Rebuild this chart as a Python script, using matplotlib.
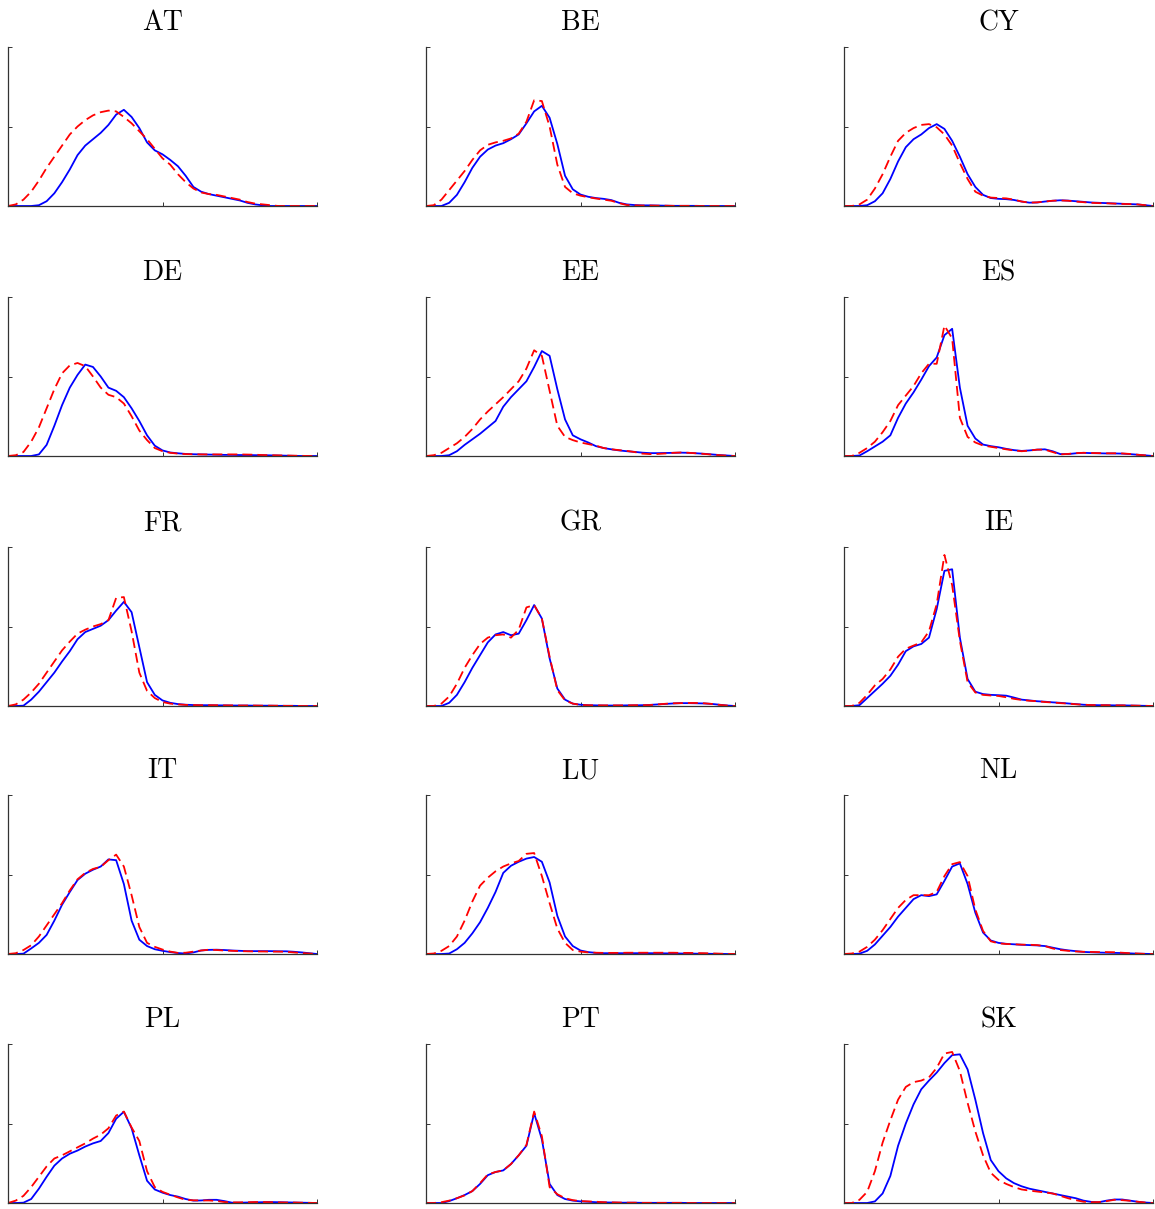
import matplotlib
matplotlib.use("Agg")
import matplotlib.pyplot as plt
import numpy as np

# common x grid (fraction of the plotted range)
X = np.linspace(0, 1, 41)

COUNTRIES = ["AT", "BE", "CY", "DE", "EE", "ES", "FR", "GR", "IE",
             "IT", "LU", "NL", "PL", "PT", "SK"]

# blue solid / red dashed densities (fraction of y range)
AT_SOLID = [0, 0, 0, 0, 0.005, 0.03, 0.08, 0.15, 0.23, 0.32, 0.38, 0.42, 0.46, 0.51, 0.575, 0.605, 0.56, 0.49, 0.40, 0.35, 0.325, 0.29, 0.25, 0.19, 0.12, 0.09, 0.075, 0.065, 0.055, 0.045, 0.035, 0.02, 0.01, 0.004, 0, 0, 0, 0, 0, 0, 0]
AT_DASHED = [0, 0.01, 0.04, 0.09, 0.16, 0.24, 0.31, 0.38, 0.45, 0.50, 0.54, 0.57, 0.59, 0.60, 0.595, 0.56, 0.52, 0.47, 0.42, 0.36, 0.30, 0.26, 0.20, 0.15, 0.11, 0.085, 0.075, 0.07, 0.06, 0.05, 0.04, 0.025, 0.015, 0.01, 0.005, 0, 0, 0, 0, 0, 0]

BE_SOLID = [0, 0, 0, 0.02, 0.07, 0.15, 0.24, 0.31, 0.355, 0.38, 0.395, 0.42, 0.45, 0.52, 0.595, 0.63, 0.555, 0.39, 0.19, 0.105, 0.072, 0.058, 0.05, 0.045, 0.037, 0.02, 0.01, 0.006, 0.004, 0.004, 0.003, 0.002, 0.001, 0.001, 0.001, 0.001, 0, 0, 0, 0, 0]
BE_DASHED = [0, 0.005, 0.04, 0.10, 0.16, 0.22, 0.29, 0.35, 0.385, 0.40, 0.41, 0.425, 0.455, 0.53, 0.665, 0.66, 0.50, 0.26, 0.12, 0.08, 0.065, 0.055, 0.047, 0.04, 0.033, 0.018, 0.006, 0.004, 0.003, 0.003, 0.002, 0.002, 0.001, 0.001, 0.001, 0, 0, 0, 0, 0, 0]

CY_SOLID = [0, 0, 0, 0.005, 0.03, 0.08, 0.17, 0.28, 0.37, 0.42, 0.45, 0.49, 0.515, 0.485, 0.41, 0.31, 0.20, 0.12, 0.07, 0.05, 0.045, 0.043, 0.038, 0.028, 0.021, 0.022, 0.028, 0.033, 0.036, 0.034, 0.03, 0.026, 0.022, 0.02, 0.018, 0.016, 0.014, 0.012, 0.01, 0.005, 0]
CY_DASHED = [0, 0, 0.01, 0.04, 0.11, 0.20, 0.31, 0.41, 0.46, 0.49, 0.51, 0.515, 0.495, 0.45, 0.38, 0.27, 0.17, 0.09, 0.065, 0.053, 0.05, 0.048, 0.04, 0.028, 0.021, 0.023, 0.028, 0.033, 0.035, 0.033, 0.028, 0.024, 0.02, 0.018, 0.017, 0.015, 0.013, 0.012, 0.01, 0.005, 0]

DE_SOLID = [0, 0, 0, 0, 0.01, 0.07, 0.19, 0.32, 0.43, 0.51, 0.575, 0.56, 0.50, 0.43, 0.41, 0.37, 0.30, 0.22, 0.13, 0.065, 0.035, 0.022, 0.017, 0.013, 0.011, 0.01, 0.009, 0.008, 0.007, 0.007, 0.006, 0.006, 0.005, 0.005, 0.004, 0.003, 0.002, 0.001, 0, 0, 0]
DE_DASHED = [0, 0.005, 0.025, 0.09, 0.18, 0.30, 0.42, 0.52, 0.57, 0.585, 0.565, 0.50, 0.43, 0.385, 0.37, 0.33, 0.25, 0.16, 0.10, 0.05, 0.03, 0.02, 0.015, 0.012, 0.011, 0.01, 0.01, 0.01, 0.01, 0.01, 0.01, 0.009, 0.008, 0.006, 0.005, 0.004, 0.003, 0.002, 0.001, 0, 0]

EE_SOLID = [0, 0, 0, 0.005, 0.03, 0.07, 0.105, 0.14, 0.18, 0.22, 0.31, 0.37, 0.42, 0.47, 0.56, 0.66, 0.63, 0.42, 0.23, 0.13, 0.105, 0.085, 0.062, 0.05, 0.042, 0.035, 0.03, 0.026, 0.021, 0.018, 0.018, 0.019, 0.02, 0.021, 0.02, 0.017, 0.014, 0.01, 0.006, 0.003, 0]
EE_DASHED = [0, 0.005, 0.02, 0.05, 0.08, 0.12, 0.17, 0.23, 0.28, 0.325, 0.37, 0.42, 0.47, 0.55, 0.665, 0.63, 0.41, 0.19, 0.12, 0.10, 0.085, 0.075, 0.065, 0.05, 0.042, 0.037, 0.032, 0.025, 0.015, 0.012, 0.013, 0.016, 0.02, 0.022, 0.02, 0.017, 0.013, 0.009, 0.005, 0.002, 0]

ES_SOLID = [0, 0, 0.003, 0.03, 0.06, 0.09, 0.13, 0.24, 0.33, 0.40, 0.48, 0.565, 0.62, 0.76, 0.80, 0.43, 0.19, 0.11, 0.072, 0.062, 0.055, 0.045, 0.037, 0.032, 0.035, 0.04, 0.042, 0.03, 0.012, 0.012, 0.017, 0.02, 0.018, 0.017, 0.016, 0.016, 0.015, 0.012, 0.008, 0.004, 0]
ES_DASHED = [0, 0, 0.02, 0.05, 0.09, 0.15, 0.22, 0.32, 0.38, 0.44, 0.52, 0.58, 0.58, 0.82, 0.74, 0.24, 0.12, 0.085, 0.066, 0.058, 0.05, 0.042, 0.035, 0.03, 0.034, 0.04, 0.04, 0.025, 0.01, 0.013, 0.018, 0.02, 0.019, 0.018, 0.017, 0.017, 0.016, 0.013, 0.008, 0.004, 0]

FR_SOLID = [0, 0, 0.002, 0.04, 0.09, 0.15, 0.21, 0.28, 0.345, 0.42, 0.465, 0.485, 0.505, 0.54, 0.60, 0.655, 0.59, 0.37, 0.15, 0.07, 0.035, 0.02, 0.012, 0.008, 0.006, 0.005, 0.005, 0.004, 0.004, 0.003, 0.003, 0.003, 0.002, 0.002, 0.002, 0.001, 0.001, 0.001, 0, 0, 0]
FR_DASHED = [0, 0.01, 0.04, 0.085, 0.14, 0.21, 0.28, 0.35, 0.405, 0.455, 0.48, 0.50, 0.515, 0.54, 0.68, 0.685, 0.47, 0.21, 0.095, 0.05, 0.025, 0.015, 0.01, 0.007, 0.006, 0.005, 0.005, 0.005, 0.004, 0.004, 0.003, 0.003, 0.003, 0.002, 0.002, 0.002, 0.001, 0.001, 0, 0, 0]

GR_SOLID = [0, 0, 0, 0.02, 0.07, 0.15, 0.24, 0.32, 0.40, 0.45, 0.465, 0.445, 0.455, 0.54, 0.635, 0.55, 0.30, 0.11, 0.04, 0.015, 0.008, 0.005, 0.004, 0.003, 0.003, 0.003, 0.004, 0.004, 0.005, 0.007, 0.01, 0.013, 0.016, 0.018, 0.018, 0.017, 0.016, 0.013, 0.008, 0.003, 0]
GR_DASHED = [0, 0, 0.015, 0.06, 0.14, 0.24, 0.32, 0.39, 0.43, 0.445, 0.45, 0.43, 0.48, 0.62, 0.635, 0.55, 0.31, 0.10, 0.035, 0.015, 0.007, 0.005, 0.004, 0.004, 0.004, 0.004, 0.004, 0.005, 0.005, 0.006, 0.01, 0.014, 0.017, 0.018, 0.019, 0.019, 0.017, 0.013, 0.007, 0.003, 0]

IE_SOLID = [0, 0, 0.005, 0.05, 0.095, 0.14, 0.19, 0.26, 0.345, 0.375, 0.39, 0.43, 0.61, 0.85, 0.86, 0.43, 0.17, 0.09, 0.075, 0.07, 0.068, 0.065, 0.053, 0.04, 0.035, 0.03, 0.027, 0.023, 0.02, 0.016, 0.012, 0.008, 0.006, 0.005, 0.005, 0.004, 0.004, 0.003, 0.002, 0.001, 0]
IE_DASHED = [0, 0, 0.02, 0.07, 0.13, 0.17, 0.23, 0.31, 0.36, 0.38, 0.40, 0.47, 0.64, 0.95, 0.76, 0.41, 0.15, 0.085, 0.07, 0.066, 0.063, 0.055, 0.045, 0.038, 0.033, 0.03, 0.025, 0.022, 0.018, 0.015, 0.011, 0.008, 0.006, 0.005, 0.005, 0.004, 0.004, 0.003, 0.002, 0.001, 0]

IT_SOLID = [0, 0, 0.002, 0.035, 0.07, 0.12, 0.21, 0.31, 0.39, 0.465, 0.505, 0.53, 0.55, 0.595, 0.59, 0.44, 0.21, 0.09, 0.05, 0.03, 0.02, 0.012, 0.006, 0.003, 0.01, 0.022, 0.026, 0.027, 0.025, 0.022, 0.02, 0.018, 0.018, 0.018, 0.018, 0.017, 0.017, 0.014, 0.01, 0.005, 0]
IT_DASHED = [0, 0.005, 0.025, 0.055, 0.11, 0.18, 0.25, 0.32, 0.40, 0.47, 0.51, 0.535, 0.548, 0.59, 0.625, 0.55, 0.37, 0.17, 0.07, 0.045, 0.028, 0.015, 0.007, 0.008, 0.015, 0.022, 0.027, 0.025, 0.022, 0.02, 0.018, 0.017, 0.016, 0.016, 0.015, 0.015, 0.014, 0.01, 0.006, 0.003, 0]

LU_SOLID = [0, 0, 0, 0.003, 0.03, 0.07, 0.13, 0.20, 0.29, 0.39, 0.51, 0.555, 0.58, 0.60, 0.61, 0.58, 0.45, 0.24, 0.11, 0.05, 0.022, 0.012, 0.007, 0.005, 0.005, 0.005, 0.005, 0.005, 0.005, 0.005, 0.005, 0.004, 0.004, 0.003, 0.003, 0.002, 0.002, 0.001, 0.001, 0, 0]
LU_DASHED = [0, 0.003, 0.02, 0.05, 0.11, 0.21, 0.33, 0.43, 0.48, 0.52, 0.55, 0.57, 0.585, 0.63, 0.635, 0.49, 0.32, 0.16, 0.07, 0.025, 0.015, 0.01, 0.008, 0.007, 0.007, 0.007, 0.008, 0.008, 0.008, 0.008, 0.008, 0.008, 0.008, 0.007, 0.007, 0.006, 0.005, 0.004, 0.002, 0.001, 0]

NL_SOLID = [0, 0, 0.002, 0.02, 0.06, 0.115, 0.17, 0.235, 0.29, 0.345, 0.37, 0.364, 0.375, 0.46, 0.55, 0.57, 0.44, 0.26, 0.135, 0.085, 0.07, 0.064, 0.061, 0.058, 0.056, 0.054, 0.05, 0.04, 0.03, 0.023, 0.018, 0.013, 0.011, 0.009, 0.008, 0.007, 0.006, 0.004, 0.002, 0.001, 0]
NL_DASHED = [0, 0.003, 0.015, 0.045, 0.09, 0.15, 0.22, 0.29, 0.34, 0.37, 0.37, 0.37, 0.39, 0.49, 0.565, 0.578, 0.49, 0.28, 0.145, 0.08, 0.067, 0.063, 0.061, 0.059, 0.058, 0.056, 0.05, 0.035, 0.025, 0.02, 0.016, 0.014, 0.013, 0.012, 0.012, 0.011, 0.008, 0.005, 0.003, 0.001, 0]

PL_SOLID = [0, 0, 0.002, 0.025, 0.09, 0.165, 0.235, 0.28, 0.31, 0.33, 0.355, 0.375, 0.39, 0.44, 0.53, 0.574, 0.47, 0.30, 0.14, 0.085, 0.065, 0.05, 0.04, 0.025, 0.015, 0.016, 0.02, 0.02, 0.012, 0.002, 0.002, 0.003, 0.004, 0.005, 0.006, 0.005, 0.004, 0.003, 0.002, 0.001, 0]
PL_DASHED = [0, 0.015, 0.045, 0.10, 0.165, 0.23, 0.28, 0.30, 0.325, 0.35, 0.375, 0.405, 0.43, 0.47, 0.55, 0.575, 0.475, 0.39, 0.20, 0.10, 0.07, 0.052, 0.035, 0.02, 0.017, 0.016, 0.016, 0.013, 0.006, 0.004, 0.004, 0.005, 0.006, 0.006, 0.005, 0.004, 0.003, 0.003, 0.002, 0.001, 0]

PT_SOLID = [0, 0, 0, 0.012, 0.03, 0.05, 0.075, 0.12, 0.175, 0.195, 0.205, 0.245, 0.30, 0.36, 0.565, 0.40, 0.12, 0.05, 0.025, 0.015, 0.01, 0.008, 0.005, 0.004, 0.003, 0.002, 0.002, 0.002, 0.001, 0.001, 0.001, 0.001, 0.001, 0.001, 0, 0, 0, 0, 0, 0, 0]
PT_DASHED = [0, 0, 0.005, 0.015, 0.03, 0.048, 0.075, 0.125, 0.18, 0.195, 0.205, 0.245, 0.30, 0.365, 0.575, 0.42, 0.10, 0.055, 0.03, 0.018, 0.012, 0.01, 0.008, 0.005, 0.004, 0.003, 0.002, 0.002, 0.001, 0.001, 0.001, 0.001, 0.001, 0.001, 0, 0, 0, 0, 0, 0, 0]

SK_SOLID = [0, 0, 0, 0, 0.01, 0.06, 0.17, 0.36, 0.50, 0.62, 0.715, 0.77, 0.82, 0.88, 0.93, 0.935, 0.84, 0.65, 0.44, 0.27, 0.20, 0.155, 0.125, 0.105, 0.09, 0.08, 0.07, 0.06, 0.05, 0.04, 0.03, 0.015, 0.007, 0.005, 0.015, 0.022, 0.022, 0.015, 0.008, 0.003, 0]
SK_DASHED = [0, 0, 0.02, 0.07, 0.20, 0.38, 0.52, 0.65, 0.73, 0.76, 0.77, 0.79, 0.85, 0.94, 0.95, 0.83, 0.63, 0.45, 0.30, 0.19, 0.145, 0.12, 0.10, 0.085, 0.078, 0.072, 0.066, 0.06, 0.045, 0.03, 0.018, 0.008, 0.005, 0.006, 0.012, 0.02, 0.018, 0.014, 0.008, 0.003, 0]

SOLID = [AT_SOLID, BE_SOLID, CY_SOLID, DE_SOLID, EE_SOLID, ES_SOLID, FR_SOLID,
         GR_SOLID, IE_SOLID, IT_SOLID, LU_SOLID, NL_SOLID, PL_SOLID, PT_SOLID, SK_SOLID]
DASHED = [AT_DASHED, BE_DASHED, CY_DASHED, DE_DASHED, EE_DASHED, ES_DASHED, FR_DASHED,
          GR_DASHED, IE_DASHED, IT_DASHED, LU_DASHED, NL_DASHED, PL_DASHED, PT_DASHED, SK_DASHED]

W, H = 1155, 1209
fig = plt.figure(figsize=(W / 100, H / 100), dpi=100)

col_left = [8, 426, 844]
row_top = [47, 297, 547, 795, 1044]
ax_w, ax_h = 309, 159

for i, name in enumerate(COUNTRIES):
    r, c = divmod(i, 3)
    left = col_left[c] / W
    bottom = 1 - (row_top[r] + ax_h) / H
    ax = fig.add_axes([left, bottom, ax_w / W, ax_h / H])

    ax.plot(X, SOLID[i], color="#0000ff", lw=1.3, solid_capstyle="round")
    ax.plot(X, DASHED[i], color="#ff0000", lw=1.3, dashes=(5.5, 2.8))

    ax.set_xlim(0, 1)
    ax.set_ylim(0, 1)
    ax.set_xticks([0, 0.5, 1])
    ax.set_yticks([0, 0.5, 1])
    ax.set_xticklabels([])
    ax.set_yticklabels([])
    ax.tick_params(direction="in", length=3, width=0.7, colors="#333333")
    for s in ["top", "right"]:
        ax.spines[s].set_visible(False)
    for s in ["left", "bottom"]:
        ax.spines[s].set_color("#333333")
        ax.spines[s].set_linewidth(0.9)
    ax.set_title(name, fontsize=20, family="cmr10", pad=12)

fig.savefig("out.png", dpi=100)
